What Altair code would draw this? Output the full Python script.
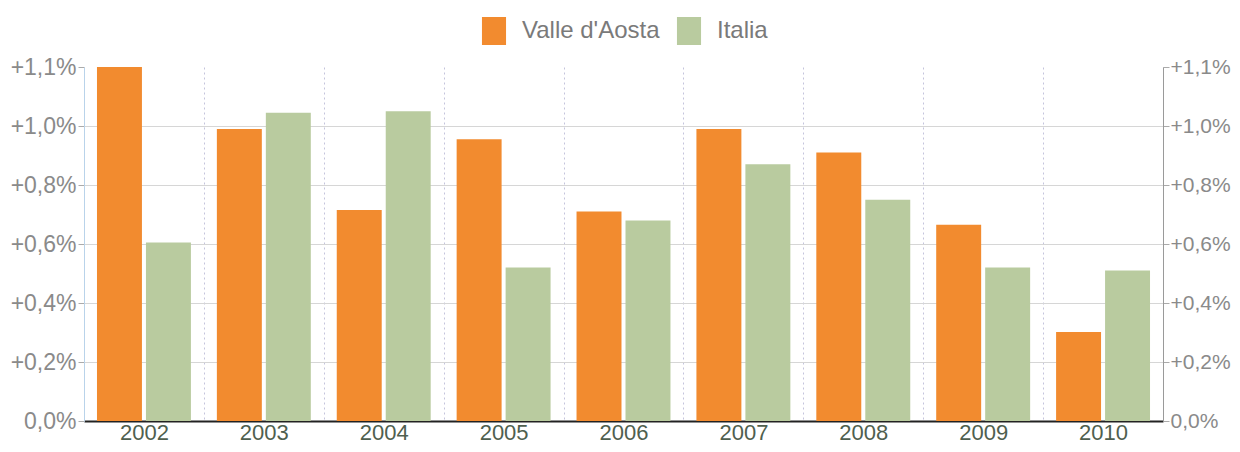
import altair as alt
import pandas as pd

years = ["2002", "2003", "2004", "2005", "2006", "2007", "2008", "2009", "2010"]
series = ["Valle d'Aosta", "Italia"]
valle = [1.20, 0.99, 0.715, 0.955, 0.71, 0.99, 0.91, 0.665, 0.302]
italia = [0.605, 1.045, 1.05, 0.52, 0.68, 0.87, 0.75, 0.52, 0.51]
tick_values = [0, 0.2, 0.4, 0.6, 0.8, 1.0, 1.2]
tick_labels = ["0,0%", "+0,2%", "+0,4%", "+0,6%", "+0,8%", "+1,0%", "+1,1%"]
colors = ["#F28B2F", "#B9CB9F"]

rows = []
for i, y in enumerate(years):
    rows.append({"year": y, "serie": series[0], "v": valle[i]})
    rows.append({"year": y, "serie": series[1], "v": italia[i]})
df = pd.DataFrame(rows)

label_expr = "[" + ",".join("'" + t + "'" for t in tick_labels) + "][round(datum.value/0.2)]"

FONT = "Liberation Sans"

x_enc = alt.X(
    "year:N",
    sort=years,
    title=None,
    scale=alt.Scale(paddingInner=0, paddingOuter=0),
    axis=alt.Axis(
        tickBand="extent",
        grid=True,
        gridDash=[2, 3],
        gridColor="#c4c4dc",
        gridWidth=1,
        ticks=False,
        domainColor="#222222",
        domainWidth=2,
        labelFontSize=22,
        labelFont=FONT,
        labelColor="#4f5f4f",
        labelPadding=1,
        labelAngle=0,
    ),
)

y_scale = alt.Scale(domain=[0, 1.2], nice=False, zero=True)

def y_axis(orient, grid, domain_color, size, pad):
    return alt.Axis(
        orient=orient,
        values=tick_values,
        labelExpr=label_expr,
        grid=grid,
        gridColor="#d6d6d6",
        gridWidth=1,
        gridOpacity=alt.ExprRef(expr="datum.value > 1.1 ? 0 : 1"),
        domainColor=domain_color,
        domainWidth=1,
        tickColor="#aaaaaa",
        tickSize=6,
        labelFontSize=size,
        labelFont=FONT,
        labelColor="#8a8a8a",
        labelPadding=pad,
        title=None,
    )

bars = alt.Chart(df).mark_bar(strokeWidth=0).encode(
    x=x_enc,
    xOffset=alt.XOffset(
        "serie:N",
        sort=series,
        scale=alt.Scale(domain=series, paddingInner=0.082, paddingOuter=0.265),
    ),
    y=alt.Y("v:Q", scale=y_scale, axis=y_axis("left", True, "#b9d3ea", 23, 2)),
    color=alt.Color(
        "serie:N",
        sort=series,
        scale=alt.Scale(domain=series, range=colors),
        legend=alt.Legend(
            title=None,
            orient="none",
            direction="horizontal",
            legendX=396,
            legendY=-50,
            symbolType="M-0.86,-1H0.86V1H-0.86Z",
            symbolSize=784,
            symbolStrokeWidth=0,
            labelFontSize=24,
            labelFont=FONT,
            labelColor="#7a7a7a",
            labelOffset=14,
            columnPadding=15,
        ),
    ),
)

right = alt.Chart(df).mark_bar(opacity=0).encode(
    x=x_enc,
    y=alt.Y("v:Q", scale=y_scale, axis=y_axis("right", False, "#9a9a9a", 21, 1)),
)

chart = (
    alt.layer(bars, right)
    .resolve_axis(y="independent")
    .properties(
        width=1079,
        height=354,
        autosize=alt.AutoSizeParams(type="none"),
        padding={"left": 76, "top": 59, "right": 69, "bottom": 23},
        background="white",
    )
    .configure_view(stroke=None)
)

chart.save("out.html", embed_options={"renderer": "svg", "actions": False})
